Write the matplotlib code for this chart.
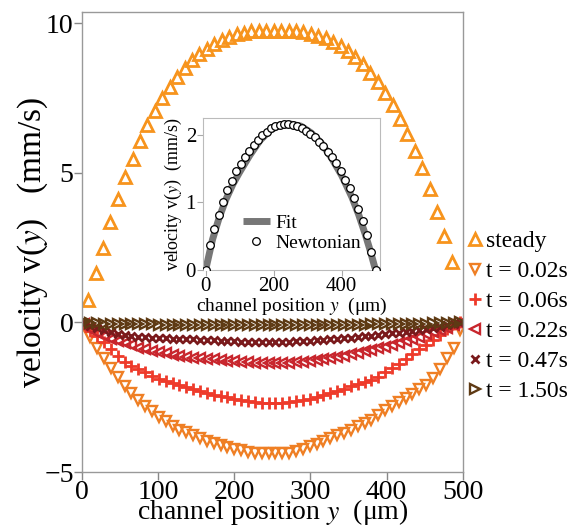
import numpy as np
import matplotlib
matplotlib.use("Agg")
import matplotlib.pyplot as plt

plt.rcParams['font.family'] = ['Liberation Serif', 'DejaVu Serif']
plt.rcParams['mathtext.fontset'] = 'stix'

# steady profile (mm/s) vs channel position (um)
steady_y = [8, 17.8, 27.5, 37.3, 47, 56.8, 66.5, 76.3, 86, 95.8, 105.5, 115.3, 125,
            134.8, 144.5, 154.3, 164, 173.8, 183.5, 193.3, 203, 212.8, 222.5, 232.3,
            242, 251.8, 261.5, 271.3, 281, 290.8, 300.5, 310.3, 320, 329.8, 339.5,
            349.3, 359, 368.8, 378.5, 388.3, 398, 407.8, 417.5, 427.3, 437, 446.8,
            456.5, 466.3, 476, 485.8]
steady_v = [0.75, 1.65, 2.5, 3.35, 4.12, 4.86, 5.47, 6.05, 6.6, 7.05, 7.5, 7.88, 8.2,
            8.5, 8.76, 8.97, 9.15, 9.31, 9.44, 9.54, 9.62, 9.68, 9.72, 9.74,
            9.75, 9.75, 9.75, 9.75, 9.73, 9.70, 9.65, 9.58, 9.50, 9.37, 9.23,
            9.06, 8.87, 8.62, 8.34, 8.03, 7.68, 7.25, 6.8, 6.3, 5.73, 5.15,
            4.47, 3.7, 2.9, 2.03]

# transient profiles, all sampled at the same positions
pos = [2, 11, 20, 29, 38, 47, 56, 65, 74, 83, 92, 101, 110, 119, 128, 137, 146, 155,
       164, 173, 182, 191, 200, 209, 218, 227, 236, 245, 254, 263, 272, 281, 290, 299,
       308, 317, 326, 335, 344, 353, 362, 371, 380, 389, 398, 407, 416, 425, 434, 443,
       452, 461, 470, 479, 488, 497]
v_002 = [-0.09, -0.48, -0.87, -1.2, -1.53, -1.83, -2.11, -2.37, -2.6, -2.78, -2.97,
         -3.16, -3.31, -3.46, -3.58, -3.68, -3.78, -3.87, -3.95, -4.03, -4.1, -4.17,
         -4.23, -4.28, -4.33, -4.35, -4.37, -4.37, -4.37, -4.36, -4.35, -4.29, -4.22,
         -4.13, -4.05, -3.96, -3.86, -3.78, -3.69, -3.58, -3.47, -3.37, -3.25, -3.1,
         -2.94, -2.8, -2.66, -2.52, -2.38, -2.23, -2.08, -1.87, -1.57, -1.2, -0.85, -0.25]
v_006 = [-0.07, -0.3, -0.47, -0.67, -0.9, -1.12, -1.33, -1.45, -1.56, -1.67, -1.78,
         -1.89, -1.96, -2.03, -2.09, -2.15, -2.21, -2.29, -2.37, -2.42, -2.47, -2.51,
         -2.56, -2.6, -2.64, -2.67, -2.7, -2.7, -2.7, -2.69, -2.67, -2.64, -2.6, -2.55,
         -2.49, -2.43, -2.37, -2.29, -2.21, -2.13, -2.05, -1.98, -1.91, -1.82, -1.67,
         -1.53, -1.39, -1.22, -1.06, -0.9, -0.75, -0.6, -0.41, -0.22, -0.05, 0.0]
v_022 = [-0.04, -0.22, -0.36, -0.46, -0.54, -0.63, -0.7, -0.77, -0.84, -0.9, -0.96,
         -1.0, -1.04, -1.08, -1.12, -1.15, -1.18, -1.2, -1.22, -1.24, -1.26, -1.28,
         -1.3, -1.32, -1.34, -1.35, -1.36, -1.37, -1.37, -1.36, -1.35, -1.34, -1.32,
         -1.29, -1.26, -1.23, -1.19, -1.16, -1.12, -1.07, -1.02, -0.97, -0.93, -0.87,
         -0.81, -0.76, -0.7, -0.63, -0.56, -0.48, -0.4, -0.33, -0.26, -0.19, -0.1, -0.02]
v_047 = [-0.02, -0.12, -0.2, -0.27, -0.33, -0.38, -0.43, -0.46, -0.48, -0.5, -0.51,
         -0.52, -0.53, -0.54, -0.55, -0.56, -0.57, -0.58, -0.59, -0.6, -0.61, -0.62,
         -0.63, -0.64, -0.64, -0.65, -0.65, -0.65, -0.65, -0.65, -0.64, -0.63, -0.62,
         -0.61, -0.59, -0.58, -0.56, -0.55, -0.53, -0.51, -0.49, -0.47, -0.45, -0.42,
         -0.4, -0.37, -0.34, -0.32, -0.28, -0.25, -0.21, -0.18, -0.15, -0.1, -0.06, -0.01]
v_150 = [0.0, -0.02, -0.03, -0.04, -0.05, -0.05, -0.06, -0.06, -0.07, -0.07, -0.07,
         -0.08, -0.08, -0.08, -0.08, -0.08, -0.09, -0.09, -0.09, -0.09, -0.09, -0.09,
         -0.09, -0.09, -0.09, -0.09, -0.09, -0.09, -0.09, -0.09, -0.09, -0.09, -0.09,
         -0.09, -0.09, -0.09, -0.09, -0.08, -0.08, -0.08, -0.08, -0.08, -0.07, -0.07,
         -0.07, -0.06, -0.06, -0.05, -0.05, -0.04, -0.04, -0.03, -0.02, -0.02, -0.01, 0.0]

# inset: Newtonian reference
newt_y = [0, 12.8, 25.6, 38.5, 51.3, 64.1, 76.9, 89.7, 102.6, 115.4, 128.2, 141, 153.8,
          166.7, 179.5, 192.3, 205.1, 217.9, 230.8, 243.6, 256.4, 269.2, 282.1, 294.9,
          307.7, 320.5, 333.3, 346.2, 359, 371.8, 384.6, 397.4, 410.3, 423.1, 435.9,
          448.7, 461.5, 474.4, 487.2, 500]
newt_v = [0, 0.37, 0.61, 0.81, 1.01, 1.18, 1.32, 1.46, 1.57, 1.67, 1.76, 1.85, 1.93,
          2.0, 2.05, 2.1, 2.13, 2.15, 2.16, 2.16, 2.15, 2.13, 2.1, 2.06, 2.01, 1.97,
          1.9, 1.84, 1.75, 1.67, 1.58, 1.47, 1.33, 1.21, 1.06, 0.9, 0.73, 0.52, 0.27, 0]
fit_y = [2, 20, 40, 60, 80, 100, 130, 160, 190, 220, 250, 280, 310, 340, 370, 400,
         430, 450, 470, 485, 498]
fit_v = [0.05, 0.45, 0.78, 1.05, 1.27, 1.45, 1.7, 1.92, 2.07, 2.15, 2.16, 2.13, 2.03,
         1.88, 1.66, 1.4, 1.08, 0.82, 0.52, 0.27, 0.03]

series = [
    (steady_y, steady_v, '^', '#F7941D', 9, 2.0, 'steady'),
    (pos, v_002, 'v', '#EF7F24', 7, 1.7, 't = 0.02s'),
    (pos, v_006, '+', '#EE3A2A', 8, 2.0, 't = 0.06s'),
    (pos, v_022, '<', '#C8262D', 7, 1.7, 't = 0.22s'),
    (pos, v_047, 'x', '#7A1A1C', 6, 2.0, 't = 0.47s'),
    (pos, v_150, '>', '#5E3A14', 7, 1.7, 't = 1.50s'),
]

fig = plt.figure(figsize=(5.75, 5.31), dpi=100)
ax = fig.add_axes([0.1426, 0.1111, 0.6622, 0.8663])

for yy, vv, mk, col, ms, mew, lab in series:
    ax.plot(yy, vv, linestyle='none', marker=mk, ms=ms, mew=mew,
            mfc='none', mec=col, color=col, label=lab)

ax.set_xlim(0, 500)
ax.set_ylim(-5, 10.37)
ax.set_xticks([0, 100, 200, 300, 400, 500])
ax.set_yticks([-5, 0, 5, 10])
ax.set_yticklabels(['\u22125', '0', '5', '10'])
ax.tick_params(direction='out', length=6, width=1, color='#888888',
               labelsize=20, pad=0)
for sp in ax.spines.values():
    sp.set_color('#999999')
    sp.set_linewidth(1)
ax.set_xlabel('channel position $y$  (\u03bcm)', fontsize=20, labelpad=-6)
ax.set_ylabel('velocity v($y$)   (mm/s)', fontsize=24, labelpad=-4)

leg = ax.legend(loc='upper left', bbox_to_anchor=(0.99, 0.545), frameon=False,
                fontsize=17, handlelength=0.6, handletextpad=0.15,
                labelspacing=0.36, borderaxespad=0)

# inset
ins = fig.add_axes([0.353, 0.4915, 0.308, 0.2863])
ins.plot(fit_y, fit_v, color='#777777', lw=5, solid_capstyle='butt', label='Fit',
         zorder=2)
ins.plot(newt_y, newt_v, linestyle='none', marker='o', ms=5.5, mfc='white',
         mec='black', mew=0.9, label='Newtonian', zorder=3)
ins.set_xlim(-8, 513)
ins.set_ylim(0, 2.25)
ins.set_xticks([0, 200, 400])
ins.set_yticks([0, 1, 2])
ins.tick_params(direction='out', length=4, width=0.8, color='#aaaaaa',
                labelsize=15, pad=1)
for sp in ins.spines.values():
    sp.set_color('#bbbbbb')
    sp.set_linewidth(0.8)
ins.set_xlabel('channel position $y$  (\u03bcm)', fontsize=14, labelpad=0)
ins.set_ylabel('velocity v($y$)  (mm/s)', fontsize=13, labelpad=1)
ins.legend(loc='lower left', bbox_to_anchor=(0.18, 0.07), frameon=False,
           fontsize=14, handlelength=1.4, handletextpad=0.3, labelspacing=0.1,
           borderaxespad=0)

fig.savefig('out.png', dpi=100)
